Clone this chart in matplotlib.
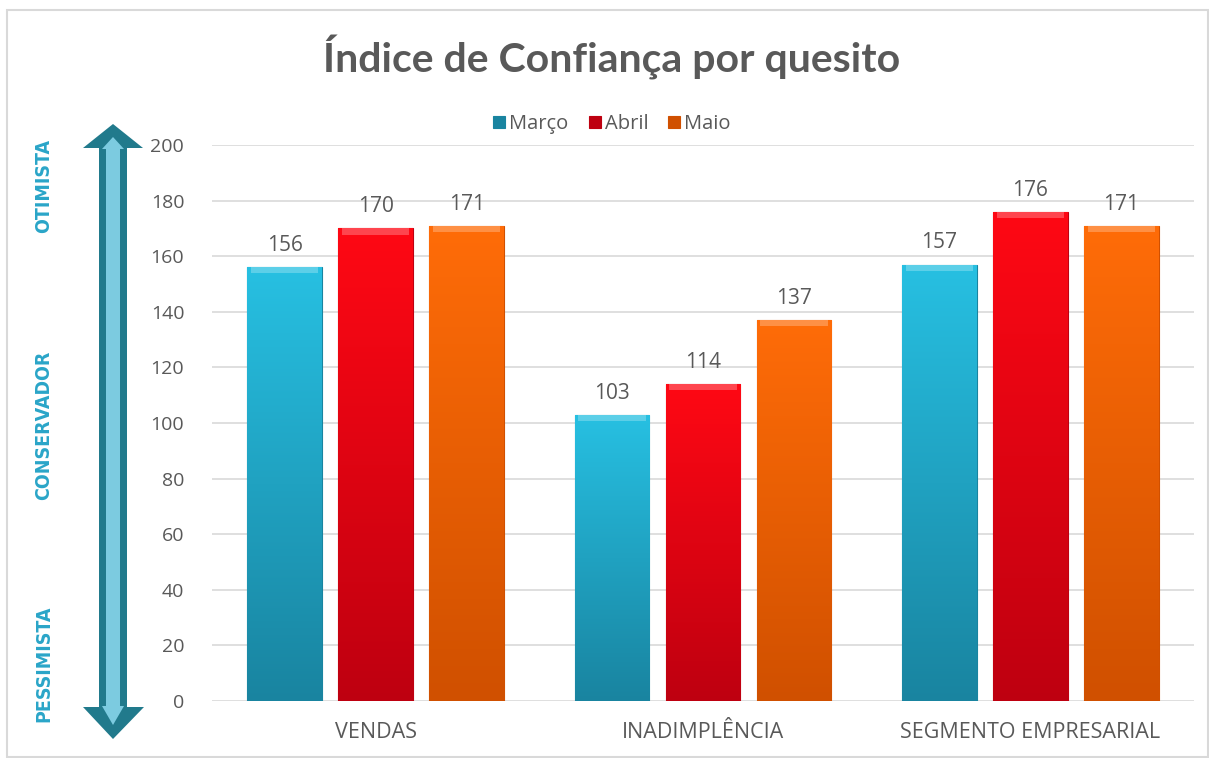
import numpy as np
import matplotlib.pyplot as plt
from matplotlib.patches import Polygon, Rectangle
from matplotlib.colors import LinearSegmentedColormap

categorias = ["VENDAS", "INADIMPLÊNCIA", "SEGMENTO EMPRESARIAL"]
meses = ["Março", "Abril", "Maio"]
marco = [156, 103, 157]
abril = [170, 114, 176]
maio = [171, 137, 171]

# cor de cima, cor de baixo
cores = [("#27c0e2", "#1984a0"), ("#ff0814", "#be0010"), ("#ff6c08", "#d05000")]
cinza = "#595959"

W, H = 1209, 758
fig = plt.figure(figsize=(W / 100, H / 100), dpi=100)
ax = fig.add_axes([212 / W, (H - 701) / H, 982 / W, 556 / H])

x = np.arange(len(categorias))
largura = 0.229
passo = 0.278
series = [marco, abril, maio]

for i, (vals, (c_top, c_bot)) in enumerate(zip(series, cores)):
    bars = ax.bar(x + (i - 1) * passo, vals, largura, color=c_bot, label=meses[i],
                  zorder=2, edgecolor=c_bot, linewidth=0.8)
    cmap = LinearSegmentedColormap.from_list("g", [c_bot, c_top])
    for b, v in zip(bars, vals):
        x0, w = b.get_x(), b.get_width()
        grad = np.linspace(0, 1, 256).reshape(-1, 1)
        im = ax.imshow(grad, cmap=cmap, aspect="auto", origin="lower",
                       extent=[x0, x0 + w, 0, v], zorder=2.5)
        im.set_clip_path(b)
        # chanfro claro no topo
        ax.fill_between([x0 + 0.012, x0 + w - 0.012], v - 2.2, v, color="white",
                        alpha=0.25, zorder=3, linewidth=0)
        ax.annotate(str(v), (x0 + w / 2, v), xytext=(0, 8), textcoords="offset points",
                    ha="center", va="bottom", fontsize=15, color=cinza,
                    family="Open Sans")

ax.set_xlim(-0.5, 2.5)
ax.set_ylim(0, 200)
ax.set_yticks(np.arange(0, 201, 20))
ax.set_xticks(x)
ax.set_xticklabels(categorias, fontsize=15.5, color=cinza, family="Open Sans")
ax.tick_params(axis="y", labelsize=14, colors=cinza, length=0, pad=20)
ax.tick_params(axis="x", length=0, pad=15)
for lab in ax.get_yticklabels():
    lab.set_family("Open Sans")
ax.grid(axis="y", color="#d9d9d9", linewidth=1.2, zorder=0)
ax.set_axisbelow(True)
for s in ax.spines.values():
    s.set_visible(False)

fig.text(612 / W, 1 - 57 / H, "Índice de Confiança por quesito", ha="center", va="center",
         fontsize=29.5, fontweight="bold", color=cinza, family="Lato")

leg = fig.legend(loc="center", bbox_to_anchor=(612 / W, 1 - 124 / H), ncol=3, frameon=False,
                 prop={"family": "Open Sans", "size": 14.5}, handlelength=0.6,
                 handleheight=0.6, handletextpad=0.2, columnspacing=1.0)
for t in leg.get_texts():
    t.set_color(cinza)

# camada de decoracao em pixels
deco = fig.add_axes([0, 0, 1, 1], zorder=-1)
deco.set_xlim(0, W)
deco.set_ylim(H, 0)
deco.axis("off")
deco.add_patch(Rectangle((7, 10), W - 8, H - 11, fill=False, edgecolor="#d9d9d9", linewidth=1.5))

escuro = "#217a8c"
claro = "#7ccbe0"
seta = [(113, 124), (143, 148), (127, 148), (127, 707), (144, 707), (113, 739),
        (83, 707), (99, 707), (99, 148), (83, 148)]
deco.add_patch(Polygon(seta, closed=True, facecolor=escuro, edgecolor="none"))
seta_in = [(113, 137), (124, 149), (120, 149), (120, 706), (124, 706), (113, 725),
           (102, 706), (106, 706), (106, 149), (102, 149)]
deco.add_patch(Polygon(seta_in, closed=True, facecolor=claro, edgecolor="none"))

azul = "#2aa5c8"
for txt, yc in [("OTIMISTA", 186), ("CONSERVADOR", 425), ("PESSIMISTA", 664)]:
    deco.text(44, yc, txt, rotation=90, ha="center", va="center", fontsize=14,
              fontweight="heavy", fontstretch="condensed", color=azul, family="DejaVu Sans")

fig.savefig("out.png", dpi=100)
